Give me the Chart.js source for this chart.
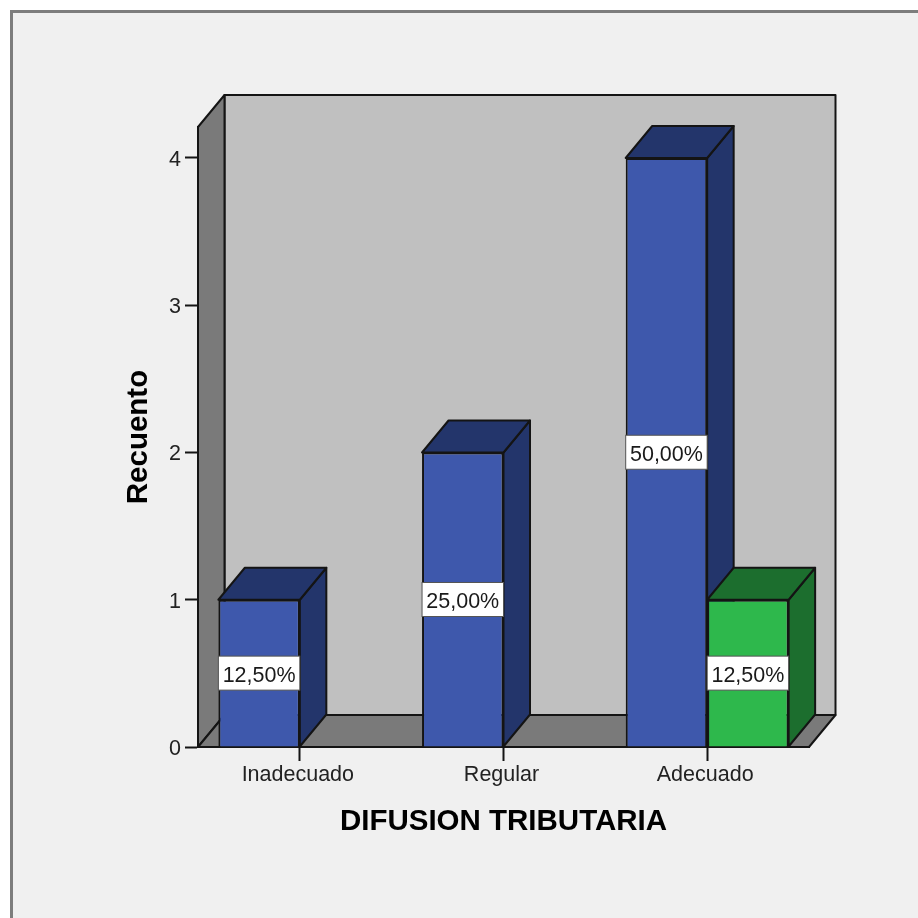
<!DOCTYPE html>
<html>
<head>
<meta charset="utf-8">
<script src="https://cdn.jsdelivr.net/npm/chart.js@4"></script>
<style>
html,body{margin:0;padding:0;background:#fff;width:918px;height:918px;overflow:hidden}
#frame{position:absolute;left:10px;top:10px;width:908px;height:908px;box-sizing:border-box;background:#f0f0f0;border-left:3px solid #7d7d7d;border-top:3px solid #7d7d7d}
canvas{position:absolute;left:0;top:0;filter:blur(0.4px)}
</style>
</head>
<body>
<div id="frame"></div>
<canvas id="c" width="918" height="918" style="width:918px;height:918px"></canvas>
<script>
const categories = ['Inadecuado', 'Regular', 'Adecuado'];
const seriesNames = ['Inadecuado-Regular', 'Adecuado'];
const blueValues = [1, 2, 4];
const greenValues = [null, null, 1];
const blueLabels = ['12,50%', '25,00%', '50,00%'];
const greenLabels = [null, null, '12,50%'];
const yTicks = [0, 1, 2, 3, 4];
const xTitle = 'DIFUSION TRIBUTARIA';
const yTitle = 'Recuento';

const DX = 26.5, DY = 32, STROKE = '#141414';
const faces = [
  {side: '#23356b', label: blueLabels},
  {side: '#1c6e2e', label: greenLabels}
];

function poly(ctx, pts, fill) {
  ctx.beginPath();
  pts.forEach((p, i) => i ? ctx.lineTo(p[0], p[1]) : ctx.moveTo(p[0], p[1]));
  ctx.closePath();
  ctx.fillStyle = fill;
  ctx.fill();
  ctx.lineWidth = 2;
  ctx.strokeStyle = STROKE;
  ctx.lineJoin = 'round';
  ctx.stroke();
}

const box3d = {
  id: 'box3d',
  beforeDatasetsDraw(chart) {
    const {ctx, chartArea: a} = chart;
    ctx.save();
    poly(ctx, [[a.left + DX, a.top - DY], [a.right + DX, a.top - DY], [a.right + DX, a.bottom - DY], [a.left + DX, a.bottom - DY]], '#c0c0c0');
    poly(ctx, [[a.left, a.top], [a.left + DX, a.top - DY], [a.left + DX, a.bottom - DY], [a.left, a.bottom]], '#7a7a7a');
    poly(ctx, [[a.left, a.bottom], [a.right, a.bottom], [a.right + DX, a.bottom - DY], [a.left + DX, a.bottom - DY]], '#7a7a7a');
    faces.forEach((f, d) => {
      chart.getDatasetMeta(d).data.forEach((el, i) => {
        if (chart.data.datasets[d].data[i] == null) return;
        const p = el.getProps(['x', 'y', 'base', 'width'], true);
        const l = p.x - p.width / 2, r = p.x + p.width / 2;
        poly(ctx, [[r, p.y], [r + DX, p.y - DY], [r + DX, p.base - DY], [r, p.base]], f.side);
        poly(ctx, [[l, p.y], [l + DX, p.y - DY], [r + DX, p.y - DY], [r, p.y]], f.side);
      });
    });
    ctx.restore();
  },
  afterDatasetsDraw(chart) {
    const {ctx} = chart;
    ctx.save();
    ctx.font = '21.5px "Liberation Sans", Arial, sans-serif';
    ctx.textAlign = 'center';
    ctx.textBaseline = 'middle';
    faces.forEach((f, d) => {
      chart.getDatasetMeta(d).data.forEach((el, i) => {
        const t = f.label[i];
        if (t == null) return;
        const p = el.getProps(['x', 'y', 'base', 'width'], true);
        const cy = (p.y + p.base) / 2, l = p.x - p.width / 2;
        ctx.fillStyle = '#fff';
        ctx.fillRect(l, cy - 17, p.width, 34);
        ctx.strokeStyle = '#555';
        ctx.lineWidth = 1;
        ctx.strokeRect(l, cy - 17, p.width, 34);
        ctx.fillStyle = '#1a1a1a';
        ctx.fillText(t, p.x, cy + 3);
      });
    });
    ctx.restore();
  }
};

new Chart(document.getElementById('c'), {
  type: 'bar',
  data: {
    labels: categories,
    datasets: [
      {label: seriesNames[0], data: blueValues, backgroundColor: '#3e58ac', borderColor: STROKE, borderWidth: 2, barPercentage: 1, categoryPercentage: 0.8},
      {label: seriesNames[1], data: greenValues, backgroundColor: '#2eb84c', borderColor: STROKE, borderWidth: 2, barPercentage: 1, categoryPercentage: 0.8}
    ]
  },
  plugins: [box3d],
  options: {
    responsive: false,
    devicePixelRatio: 1,
    animation: false,
    layout: {padding: {left: 0, top: 127, right: 109, bottom: 0}},
    plugins: {legend: {display: false}, tooltip: {enabled: false}},
    scales: {
      x: {
        afterFit(s) { s.height = 171; },
        grid: {drawOnChartArea: false, offset: false, tickLength: 14, tickColor: STROKE, tickWidth: 2},
        border: {color: STROKE, width: 2},
        ticks: {color: '#222', font: {family: '"Liberation Sans", Arial, sans-serif', size: 21.5}, padding: 1, labelOffset: -2, autoSkip: false, maxRotation: 0},
        title: {display: true, text: xTitle, color: '#000', font: {family: '"Liberation Sans", Arial, sans-serif', size: 29.5, weight: 'bold'}, padding: 78}
      },
      y: {
        min: 0,
        max: 4.2105,
        afterFit(s) { s.width = 198; },
        afterBuildTicks(s) { s.ticks = yTicks.map(v => ({value: v})); },
        grid: {drawOnChartArea: false, tickLength: 13, tickColor: STROKE, tickWidth: 2},
        border: {color: STROKE, width: 2},
        ticks: {color: '#222', font: {family: '"Liberation Sans", Arial, sans-serif', size: 21.5}, padding: 4, labelOffset: 2, includeBounds: false, stepSize: 1},
        title: {display: true, text: yTitle, color: '#000', font: {family: '"Liberation Sans", Arial, sans-serif', size: 29.5, weight: 'bold'}, padding: 121}
      }
    }
  }
});
</script>
</body>
</html>
